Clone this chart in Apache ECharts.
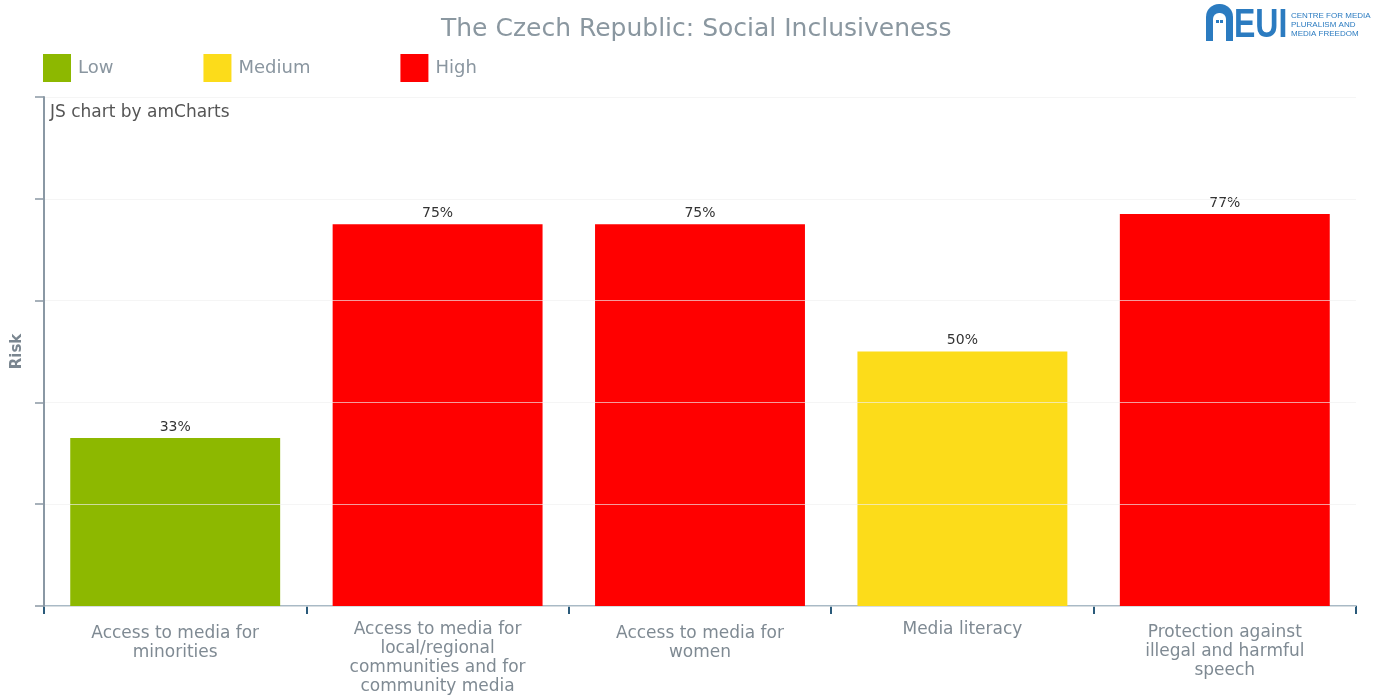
<!DOCTYPE html>
<html>
<head>
<meta charset="utf-8">
<script src="https://cdn.jsdelivr.net/npm/echarts@6/dist/echarts.min.js"></script>
<style>html,body{margin:0;padding:0;background:#fff}#c{width:1373px;height:696px}</style>
</head>
<body>
<div id="c"></div>
<script>
const categories = [
  'Access to media for\nminorities',
  'Access to media for\nlocal/regional\ncommunities and for\ncommunity media',
  'Access to media for\nwomen',
  'Media literacy',
  'Protection against\nillegal and harmful\nspeech'
];
const values = [33, 75, 75, 50, 77];
const levels = ['Low', 'High', 'High', 'Medium', 'High'];
const levelNames = ['Low', 'Medium', 'High'];
const levelColors = {Low: '#8DB800', Medium: '#FCDC1A', High: '#FF0000'};
const yTicks = [0, 20, 40, 60, 80, 100];

const FONT = 'DejaVu Sans';
const chart = echarts.init(document.getElementById('c'), null, {renderer: 'canvas'});

const series = levelNames.map(function (lv) {
  return {
    name: lv,
    type: 'bar',
    barGap: '-100%',
    barWidth: '80%',
    itemStyle: {color: levelColors[lv]},
    label: {
      show: true, position: 'top', distance: 4,
      formatter: '{c}%', color: '#333', fontSize: 14, fontFamily: FONT
    },
    data: values.map(function (v, i) { return levels[i] === lv ? v : '-'; })
  };
});

// small vertical offsets per line count, as in the reference layout
const lineOffset = {1: 0, 2: 4, 3: 3, 4: 0};
const categoryData = categories.map(function (c) {
  const n = c.split('\n').length;
  return {value: c, textStyle: {padding: [lineOffset[n] || 0, 0, 0, 0]}};
});

chart.setOption({
  animation: false,
  textStyle: {fontFamily: FONT},
  title: {
    text: 'The Czech Republic: Social Inclusiveness',
    left: 441, top: 17, padding: 0,
    textStyle: {fontFamily: FONT, fontSize: 25, fontWeight: 'normal', color: '#8A97A0'}
  },
  legend: {
    left: 43, top: 54, padding: 0,
    itemWidth: 28, itemHeight: 28, itemGap: 90,
    icon: 'rect',
    data: levelNames,
    textStyle: {fontFamily: FONT, fontSize: 18, color: '#8A96A0', padding: [0, 0, 0, 2]}
  },
  grid: {left: 44, right: 17, top: 97, bottom: 89, containLabel: false},
  xAxis: {
    type: 'category',
    data: categoryData,
    axisLine: {lineStyle: {color: '#A9BAC6', width: 2}},
    axisTick: {show: true, length: 8, lineStyle: {color: '#2A5A7A', width: 2}},
    axisLabel: {
      fontFamily: FONT, fontSize: 17, color: '#7F8A93', lineHeight: 19,
      margin: 14, interval: 0
    }
  },
  yAxis: {
    type: 'value',
    min: yTicks[0], max: yTicks[yTicks.length - 1], interval: 20,
    z: 5,
    name: 'Risk', nameLocation: 'middle', nameGap: 19,
    nameTextStyle: {fontFamily: FONT, fontSize: 15, fontWeight: 'bold', color: '#7A8690'},
    axisLine: {show: true, lineStyle: {color: '#8A98A4', width: 2}},
    axisTick: {show: true, length: 9, lineStyle: {color: '#8A98A4', width: 1.5}},
    axisLabel: {show: false},
    splitLine: {show: true, lineStyle: {color: 'rgba(240,240,240,0.65)', width: 1}}
  },
  graphic: [
    {type: 'text', left: 50, top: 104, z: 10,
      style: {text: 'JS chart by amCharts', fontFamily: FONT, fontSize: 17, fill: '#555'}},
    // EUI logo
    {type: 'rect', left: 1206, top: 4, z: 10,
      shape: {width: 27, height: 37, r: [13, 13, 0, 0]}, style: {fill: '#2B7BC0'}},
    {type: 'rect', left: 1213, top: 13, z: 11,
      shape: {width: 13, height: 28, r: [6, 6, 0, 0]}, style: {fill: '#fff'}},
    {type: 'rect', left: 1216, top: 20, z: 12,
      shape: {width: 3, height: 3}, style: {fill: '#2B7BC0'}},
    {type: 'rect', left: 1220, top: 20, z: 12,
      shape: {width: 3, height: 3}, style: {fill: '#2B7BC0'}},
    {type: 'text', left: 1234, top: 6, z: 10, scaleX: 0.8,
      style: {text: 'EUI', fontFamily: 'Liberation Sans', fontWeight: 'bold', fontSize: 40, fill: '#2B7BC0'}},
    {type: 'text', left: 1291, top: 11, z: 10,
      style: {text: 'CENTRE FOR MEDIA\nPLURALISM AND\nMEDIA FREEDOM', fontFamily: 'Liberation Sans',
        fontSize: 8, lineHeight: 9, fill: '#2B7BC0'}}
  ],
  series: series
});
</script>
</body>
</html>
